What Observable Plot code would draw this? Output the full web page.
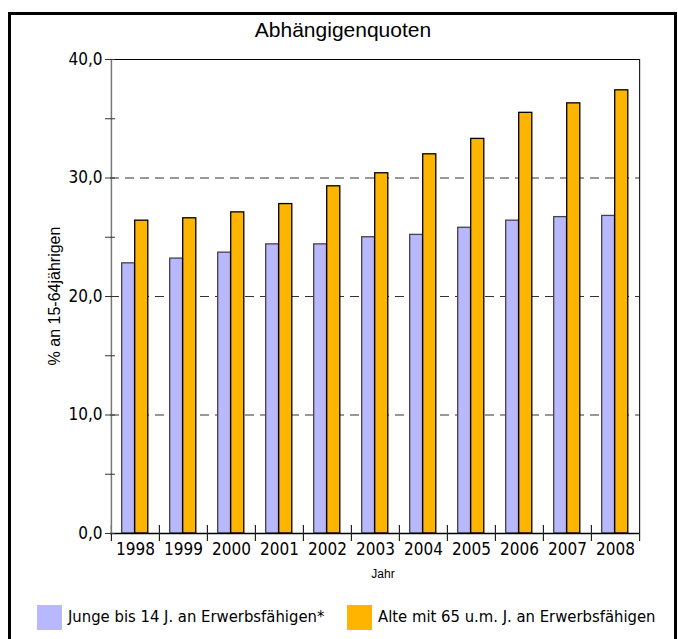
<!DOCTYPE html>
<html>
<head>
<meta charset="utf-8">
<script src="https://cdn.jsdelivr.net/npm/d3@7"></script>
<script src="https://cdn.jsdelivr.net/npm/@observablehq/plot@0.6"></script>
<style>
  html, body { margin: 0; padding: 0; background: #fff; width: 678px; height: 639px; overflow: hidden; }
  #frame { position: absolute; left: 8px; top: 12px; width: 669px; height: 700px; border: 3px solid #000; box-sizing: border-box; }
  #chart { position: absolute; left: 0; top: 0; }
  .narrow { font-family: "DejaVu Sans Condensed", "DejaVu Sans", sans-serif; font-stretch: condensed; }
  #title { position: absolute; left: 0; width: 686px; top: 18px; text-align: center; font-family: "Liberation Sans", Arial, sans-serif; font-size: 21px; line-height: 24px; color: #000; }
  #ylabel { position: absolute; left: 55px; top: 296px; transform: translate(-50%, -50%) rotate(-90deg); font-family: "Liberation Sans", Arial, sans-serif; font-size: 16px; white-space: nowrap; }
  #xlabel { position: absolute; left: 383px; top: 574px; transform: translate(-50%, -50%); font-family: "Liberation Sans", Arial, sans-serif; font-size: 12px; }
  .sw { position: absolute; top: 605px; width: 25px; height: 25px; }
  .lt { position: absolute; top: 606px; font-size: 16.5px; line-height: 22px; white-space: nowrap; color: #000; }
</style>
</head>
<body>
<div id="frame"></div>
<div id="chart"></div>
<div id="title">Abhängigenquoten</div>
<div id="ylabel">% an 15-64jährigen</div>
<div id="xlabel">Jahr</div>
<div id="legend"></div>
<script>
const years = [1998, 1999, 2000, 2001, 2002, 2003, 2004, 2005, 2006, 2007, 2008];
const junge = [22.8, 23.2, 23.7, 24.4, 24.4, 25.0, 25.2, 25.8, 26.4, 26.7, 26.8];
const alte  = [26.4, 26.6, 27.1, 27.8, 29.3, 30.4, 32.0, 33.3, 35.5, 36.3, 37.4];
const seriesNames = ["Junge bis 14 J. an Erwerbsfähigen*", "Alte mit 65 u.m. J. an Erwerbsfähigen"];
const seriesColors = ["#b8b8ff", "#ffb400"];
const yTickLabels = [0, 10, 20, 30, 40];
const yMinorTicks = [0, 5, 10, 15, 20, 25, 30, 35, 40];
const gridValues = [10, 20, 30];

const rowsJ = years.map((y, i) => ({year: y, value: junge[i]}));
const rowsA = years.map((y, i) => ({year: y, value: alte[i]}));

const marginLeft = 110, marginRight = 38, width = 678;
const bw = (width - marginLeft - marginRight) / years.length;
const narrowFont = '"DejaVu Sans Condensed", "DejaVu Sans", sans-serif';

const chart = Plot.plot({
  width, height: 570,
  marginLeft, marginRight, marginTop: 59, marginBottom: 37,
  x: {type: "band", domain: years, padding: 0, axis: null, label: null},
  y: {domain: [0, 40], axis: null, label: null},
  style: {fontFamily: narrowFont, fontSize: "17px", color: "#000", background: "transparent", overflow: "visible"},
  marks: [
    Plot.ruleY(gridValues, {stroke: "#333", strokeWidth: 1.2, strokeDasharray: "9,6"}),
    Plot.barY(rowsJ, {x: "year", y: "value", fill: seriesColors[0], stroke: "#444", strokeWidth: 1.3, insetLeft: 10.7, insetRight: 24.5}),
    Plot.barY(rowsA, {x: "year", y: "value", fill: seriesColors[1], stroke: "#000", strokeWidth: 1.3, insetLeft: 23.7, insetRight: 11.2}),
    Plot.ruleY([40], {stroke: "#000", strokeWidth: 1.2}),
    Plot.ruleY([0], {stroke: "#000", strokeWidth: 1.5}),
    // separators between year groups (crossing the x axis)
    Plot.axisX({ticks: years, tickSize: 16, dy: -8, dx: -bw / 2, tickFormat: () => "", label: null, stroke: "#222", strokeWidth: 1.2}),
    Plot.axisX({ticks: [years[years.length - 1]], tickSize: 8, dx: bw / 2, tickFormat: () => "", label: null, stroke: "#222", strokeWidth: 1.2}),
    // right frame line
    Plot.ruleX([years[years.length - 1]], {dx: bw / 2, stroke: "#222", strokeWidth: 1.2}),
    // left axis line
    Plot.ruleX([years[0]], {dx: -bw / 2, stroke: "#777", strokeWidth: 1.5}),
    // year labels
    Plot.axisX({ticks: years, tickSize: 0, tickPadding: 9, fontSize: 17, label: null, tickFormat: d => String(d)}),
    // y ticks crossing the axis
    Plot.axisY({ticks: yMinorTicks, tickSize: 10, dx: 5, tickFormat: () => "", label: null, stroke: "#333"}),
    Plot.axisY({ticks: yTickLabels, tickSize: 0, tickPadding: 8, fontSize: 17, label: null, tickFormat: d => d.toFixed(1).replace(".", ",")})
  ]
});
document.getElementById("chart").appendChild(chart);

const legend = document.getElementById("legend");
const swX = [37, 347], txX = [68, 378];
seriesNames.forEach((name, i) => {
  const s = document.createElement("div");
  s.className = "sw";
  s.style.left = swX[i] + "px";
  s.style.background = seriesColors[i];
  legend.appendChild(s);
  const t = document.createElement("div");
  t.className = "lt narrow";
  t.style.left = txX[i] + "px";
  t.textContent = name;
  legend.appendChild(t);
});
</script>
</body>
</html>
